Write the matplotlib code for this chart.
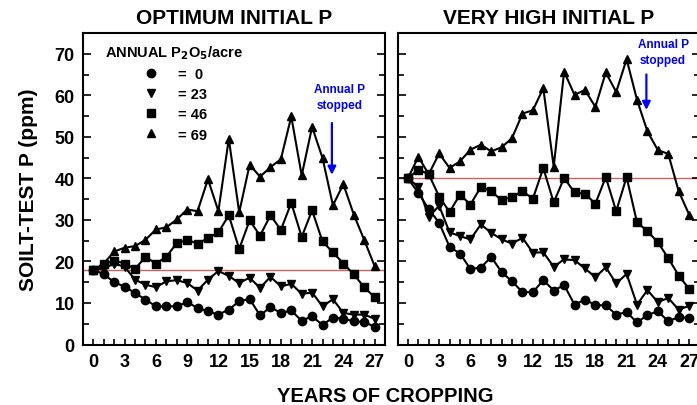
import matplotlib
matplotlib.use("Agg")
import matplotlib.pyplot as plt
from matplotlib.ticker import MultipleLocator
from matplotlib.lines import Line2D

plt.rcParams['font.family'] = ['Liberation Sans', 'DejaVu Sans']
plt.rcParams['font.weight'] = 'bold'

years = list(range(28))
rates = ["0", "23", "46", "69"]
labels = ["=  0", "= 23", "= 46", "= 69"]
markers = ['o', 'v', 's', '^']

# OPTIMUM INITIAL P
opt_0 = [18.0, 16.9, 15.0, 13.9, 12.4, 10.8, 9.2, 9.2, 9.2, 10.2, 8.8, 8.0, 7.2, 8.4,
         10.4, 11.0, 7.0, 9.0, 7.6, 8.2, 5.7, 6.8, 4.7, 6.5, 6.2, 5.6, 5.4, 4.3]
opt_23 = [18.0, 18.3, 19.5, 18.7, 15.6, 14.4, 13.8, 15.2, 15.5, 14.8, 13.0, 15.6, 17.7, 16.5,
          14.8, 16.1, 13.6, 16.3, 14.0, 14.6, 12.2, 12.5, 9.2, 10.9, 7.6, 7.2, 7.2, 6.2]
opt_46 = [18.0, 19.3, 20.2, 19.5, 18.2, 21.1, 19.5, 21.1, 24.4, 25.2, 24.3, 25.6, 27.0, 31.1,
          23.0, 29.9, 26.2, 31.1, 27.6, 34.1, 25.9, 32.3, 24.8, 22.2, 19.5, 16.9, 13.8, 11.4]
opt_69 = [18.0, 19.5, 22.4, 23.3, 23.7, 25.2, 27.7, 28.2, 30.1, 32.5, 32.1, 39.8, 32.1, 49.5,
          31.8, 43.3, 40.4, 42.7, 44.6, 54.9, 40.7, 52.4, 44.9, 33.5, 38.6, 31.3, 25.2, 18.9]

# VERY HIGH INITIAL P
vh_0 = [40.0, 36.5, 32.6, 29.3, 23.5, 21.9, 18.2, 18.5, 21.1, 17.4, 15.2, 12.6, 12.6, 15.5,
        13.0, 14.3, 9.6, 10.8, 9.5, 9.4, 7.2, 7.8, 5.3, 7.1, 8.0, 5.6, 6.6, 6.4]
vh_23 = [40.0, 38.0, 30.7, 33.4, 27.0, 26.1, 25.3, 28.9, 26.9, 25.3, 24.3, 25.7, 22.1, 22.2,
         18.7, 20.5, 20.3, 18.3, 16.2, 18.6, 14.7, 17.0, 9.6, 13.1, 10.2, 11.2, 8.4, 9.3]
vh_46 = [40.0, 42.1, 41.0, 35.6, 31.9, 36.1, 33.7, 37.9, 36.9, 34.7, 35.6, 36.9, 35.1, 42.5,
         34.2, 40.1, 36.6, 36.3, 33.9, 40.3, 32.1, 40.3, 29.4, 27.3, 24.6, 20.8, 16.6, 13.4]
vh_69 = [40.0, 45.2, 41.0, 46.0, 42.5, 44.1, 46.9, 48.1, 46.5, 47.5, 49.7, 55.6, 56.4, 61.7,
         42.8, 65.7, 60.1, 61.3, 57.2, 65.5, 60.8, 68.7, 58.9, 51.3, 46.8, 45.9, 36.9, 31.3]

panels = [
    ("OPTIMUM INITIAL P", 18, [opt_0, opt_23, opt_46, opt_69]),
    ("VERY HIGH INITIAL P", 40, [vh_0, vh_23, vh_46, vh_69]),
]
stop_year = 23
xticks = [0, 3, 6, 9, 12, 15, 18, 21, 24, 27]

W, H = 697, 406
fig = plt.figure(figsize=(W / 100, H / 100), dpi=100)
ax_w = 302 / W
ax_b = 1 - 345.5 / H
ax_h = (345.5 - 34) / H
ax1 = fig.add_axes([83 / W, ax_b, ax_w, ax_h])
ax2 = fig.add_axes([397.5 / W, ax_b, ax_w, ax_h])

msizes = {'o': 6, 'v': 6, 's': 5.5, '^': 6}

for ax, (title, init, series) in zip([ax1, ax2], panels):
    ax.axhline(init, color='#c86464', lw=1.0, zorder=1)
    for vals, m in zip(series, markers):
        ax.plot(years, vals, color='black', lw=1.5, marker=m, ms=msizes[m],
                mfc='black', mec='black', zorder=3)
    ax.set_xlim(-1, 28)
    ax.set_ylim(0, 75)
    ax.set_xticks(xticks)
    ax.xaxis.set_minor_locator(MultipleLocator(1))
    ax.yaxis.set_major_locator(MultipleLocator(10))
    ax.yaxis.set_minor_locator(MultipleLocator(5))
    ax.tick_params(axis='both', which='both', direction='in', top=False, right=True,
                   width=1.2, labelsize=13, pad=6)
    ax.tick_params(axis='y', which='major', length=6)
    ax.tick_params(axis='y', which='minor', length=4)
    ax.tick_params(axis='x', which='both', length=4)
    for sp in ax.spines.values():
        sp.set_linewidth(1.5)
    ax.set_title(title, fontsize=15, fontweight='bold', pad=7)
    for lab in ax.get_xticklabels() + ax.get_yticklabels():
        lab.set_fontweight('bold')

ax2.tick_params(axis='y', which='both', labelleft=False)
ax1.set_ylabel("SOILT-TEST P (ppm)", fontsize=15, fontweight='bold', labelpad=12)
fig.text(385 / W, 1 - 397 / H, "YEARS OF CROPPING", ha='center', va='center',
         fontsize=14.5, fontweight='bold')

# legend
handles = [Line2D([], [], ls='none', marker=m, color='black', ms=msizes[m]) for m in markers]
leg = ax1.legend(handles, labels, title="ANNUAL P$_\\mathbf{2}$O$_\\mathbf{5}$/acre",
                 loc='upper center', bbox_to_anchor=(0.30, 0.995), frameon=False,
                 fontsize=10.5, title_fontsize=10.5, labelspacing=0.42, handletextpad=1.1,
                 borderpad=0.1, handlelength=1.5)
for t in leg.get_texts():
    t.set_fontweight('bold')
leg.get_title().set_fontweight('bold')

# annotations
blue = '#0000ff'
ax1.text(23.6, 59.6, "Annual P\nstopped", color=blue, ha='center', va='center',
         fontsize=8.5, fontweight='bold', linespacing=1.45)
ax1.annotate('', xy=(stop_year - 0.1, 40.2), xytext=(stop_year - 0.1, 54.0),
             arrowprops=dict(arrowstyle='-|>', color=blue, lw=1.6, mutation_scale=12))
ax2.text(24.5, 70.5, "Annual P\nstopped", color=blue, ha='center', va='center',
         fontsize=8.5, fontweight='bold', linespacing=1.45)
ax2.annotate('', xy=(stop_year - 0.1, 55.8), xytext=(stop_year - 0.1, 65.7),
             arrowprops=dict(arrowstyle='-|>', color=blue, lw=1.6, mutation_scale=12))

fig.savefig("out.png", dpi=100)
